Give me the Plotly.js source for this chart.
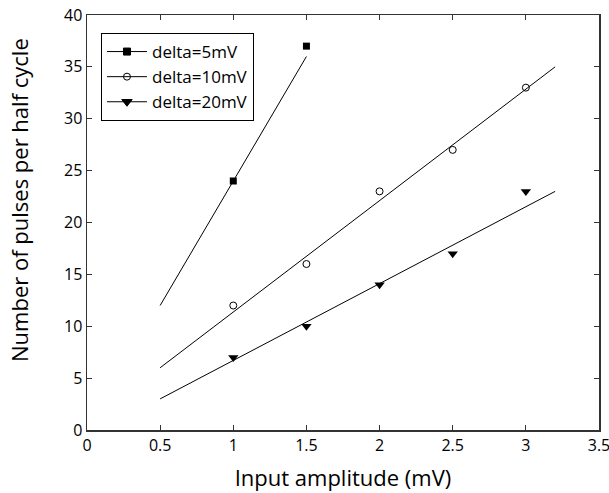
<!DOCTYPE html>
<html><head><meta charset="utf-8">
<script src="https://cdn.plot.ly/plotly-3.0.1.min.js"></script>
<style>body{margin:0;background:#fff}#plot{width:609px;height:493px}</style>
</head><body><div id="plot"></div>
<script>
const xPts = [1, 1.5, 2, 2.5, 3];
const d5X = [1, 1.5];
const d5Y = [24, 37];
const d10Y = [12, 16, 23, 27, 33];
const d20Y = [7, 10, 14, 17, 23];
const d5FitX = [0.5, 1.5];
const d5FitY = [12, 36];
const d10FitX = [0.5, 3.2];
const d10FitY = [6, 35];
const d20FitX = [0.5, 3.2];
const d20FitY = [3, 23];
const names = ['delta=5mV', 'delta=10mV', 'delta=20mV'];
const symbols = ['square', 'circle-open', 'triangle-down'];
const xTitle = 'Input amplitude (mV)';
const yTitle = 'Number of pulses per half cycle';

const FONT = 'Open Sans, sans-serif';
const lineStyle = {color: '#000', width: 1};
const sizes = [7, 7, 9];
const traces = [
  {x: d5FitX, y: d5FitY, mode: 'lines', line: lineStyle, showlegend: false},
  {x: d10FitX, y: d10FitY, mode: 'lines', line: lineStyle, showlegend: false},
  {x: d20FitX, y: d20FitY, mode: 'lines', line: lineStyle, showlegend: false},
  {x: d5X, y: d5Y, mode: 'markers', marker: {symbol: symbols[0], size: sizes[0], color: '#000'}, showlegend: false},
  {x: xPts, y: d10Y, mode: 'markers', marker: {symbol: symbols[1], size: sizes[1], color: '#000', line: {width: 1, color: '#000'}}, showlegend: false},
  {x: xPts, y: d20Y, mode: 'markers', marker: {symbol: symbols[2], size: sizes[2], color: '#000'}, showlegend: false}
];
names.forEach((n, i) => {
  traces.push({x: [null], y: [null], name: n, mode: 'lines+markers', line: lineStyle,
    marker: {symbol: symbols[i], size: sizes[i], color: '#000', line: {width: 1, color: '#000'}}});
});

const axisCommon = {
  showline: true, linecolor: '#333', linewidth: 1.5, mirror: 'ticks',
  ticks: 'inside', ticklen: 5, tickcolor: '#333', showgrid: false, zeroline: false,
  ticklabeloverflow: 'allow',
  tickfont: {family: FONT, size: 16, color: '#000'}
};
const layout = {
  width: 609, height: 493,
  margin: {l: 87, r: 10, t: 15, b: 63},
  paper_bgcolor: '#fff', plot_bgcolor: '#fff',
  showlegend: true,
  legend: {x: 0.0273, y: 0.9566, xanchor: 'left', yanchor: 'top', bordercolor: '#000', borderwidth: 1,
    bgcolor: '#fff', font: {family: FONT, size: 17, color: '#000'}, tracegroupgap: 0, itemwidth: 40},
  xaxis: Object.assign({}, axisCommon, {range: [0, 3.5], dtick: 0.5, tick0: 0,
    title: {text: xTitle, font: {family: FONT, size: 22, color: '#000'}, standoff: 16}}),
  yaxis: Object.assign({}, axisCommon, {range: [0, 40], dtick: 5, tick0: 0}),
  annotations: [{text: yTitle, textangle: -90, xref: 'paper', yref: 'paper', x: -0.133, y: 0.554,
    xanchor: 'center', yanchor: 'middle', showarrow: false, font: {family: FONT, size: 22, color: '#000'}}]
};
Plotly.newPlot('plot', traces, layout, {displayModeBar: false, staticPlot: true});
</script></body></html>
